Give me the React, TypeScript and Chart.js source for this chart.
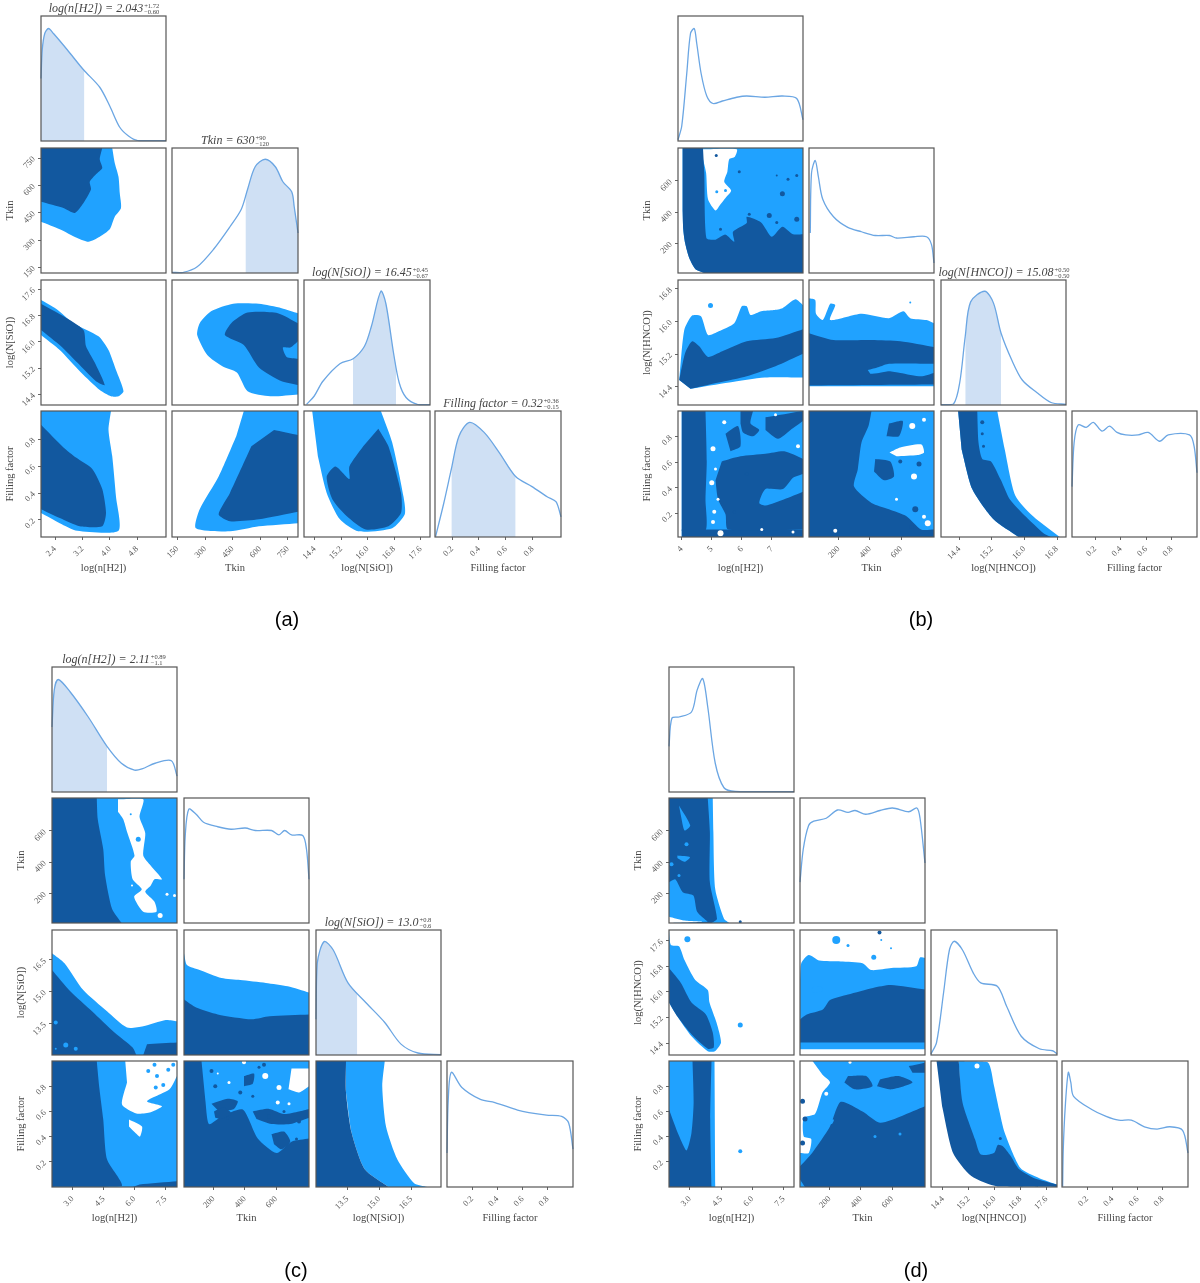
import React, { useEffect, useRef } from "react";
import { Chart, registerables } from "chart.js";

Chart.register(...registerables);

type P = number[][];

const LIGHT = "#20a2ff";
const DARK = "#12589f";
const LINE = "#6ba6e3";
const SHADE = "#cfe0f4";
const FONT = "'Liberation Serif', serif";

// ---------- axis definitions (real units) ----------
const tickT = [200, 400, 600];
const tickTLabels = ["200", "400", "600"];
const tickF = [0.2, 0.4, 0.6, 0.8];
const tickFLabels = ["0.2", "0.4", "0.6", "0.8"];

const aRangeN = [1.99, 5.64]; const aRangeT = [120, 805]; const aRangeS = [14.08, 17.88]; const aRangeF = [0.073, 1.01];
const bRangeN = [3.88, 8.03]; const bRangeT = [10, 810]; const bRangeS = [13.95, 17.02]; const bRangeF = [0.017, 1.0];
const cRangeN = [2, 8.06]; const cRangeT = [10, 810]; const cRangeS = [12.03, 17.9]; const cRangeF = [0, 1];
const dRangeN = [2, 8]; const dRangeT = [10, 810]; const dRangeS = [14.03, 17.93]; const dRangeF = [0, 1];

const aTickN = [2.4, 3.2, 4.0, 4.8]; const aTickNL = ["2.4", "3.2", "4.0", "4.8"];
const aTickT = [150, 300, 450, 600, 750]; const aTickTL = ["150", "300", "450", "600", "750"];
const aTickS = [14.4, 15.2, 16.0, 16.8, 17.6]; const aTickSL = ["14.4", "15.2", "16.0", "16.8", "17.6"];
const bTickN = [4, 5, 6, 7]; const bTickNL = ["4", "5", "6", "7"];
const bTickS = [14.4, 15.2, 16.0, 16.8]; const bTickSL = ["14.4", "15.2", "16.0", "16.8"];
const cTickN = [3.0, 4.5, 6.0, 7.5]; const cTickNL = ["3.0", "4.5", "6.0", "7.5"];
const cTickS = [13.5, 15.0, 16.5]; const cTickSL = ["13.5", "15.0", "16.5"];

// ---------- 1D posteriors: [position along axis range %, relative density %] ----------
const a1n: P = [[0,50],[1,73],[3,86],[6,90],[10,86],[21,73],[34,57],[47,43],[55,28],[63,11],[70,4],[77,0.5],[100,0.3]];
const a1t: P = [[0,0.5],[9,0.5],[20,5],[33,19],[46,37],[55,51],[60,67],[66,85],[74,91],[82,85],[88,73],[95,65],[97,53],[100,32]];
const a1s: P = [[2,0.5],[8,7],[15,19],[28.5,33],[39,37],[48,47],[53.5,63],[61,91],[65,81],[71,42],[75.5,18],[81,6],[90,0.5],[100,0.3]];
const a1f: P = [[0.5,0.5],[7,27],[13,54],[19,80],[27.5,91],[39,83],[51,67],[64,48],[77,40],[89,32],[96,28],[100,16]];
const b1n: P = [[0,1],[3,12],[7,54],[10,86],[13,90],[15,78],[18.5,54],[23,36],[28,30],[35.5,32],[47,35],[55,36],[69.5,35],[83.5,36],[95,34],[100,17]];
const b1t: P = [[1,32],[2,80],[5,90],[7.5,77],[11,59],[19.6,45],[31,36.5],[42,33],[53,30],[64.4,30],[70,28],[84,29],[94,29],[98,22.7],[100,8]];
const b1s: P = [[0,0.3],[10,0.8],[15,18],[19.4,55],[23.7,82.5],[35,91],[42,81.5],[48,57.6],[56.6,36],[65,20],[76.6,10],[88,2],[100,0.5]];
const b1f: P = [[0,40],[1.7,75],[5,89],[11.4,87],[17,91],[24,84],[30,88],[36,83],[43,81],[53,81],[61,83],[70,76],[77,81],[94,81],[97.7,72],[100,51]];
const c1n: P = [[0,52],[1.8,81.5],[5,90],[14.6,80],[29,60],[44,36.5],[55.5,23],[66,17.5],[72,18.5],[82.5,23],[95.5,25],[100,12.7]];
const c1t: P = [[0,35],[1,70],[3.8,91],[9.7,87],[15.6,80.6],[27,77],[37.6,75],[49,76],[57,74],[70,74],[76,70.5],[80.5,74],[86,70.5],[95,70],[98,59],[100,35]];
const c1s: P = [[0,28.5],[1,73.5],[6.5,90.7],[13.8,84],[25.6,57.7],[40,41.8],[55,26],[68,8.7],[81.5,1.6],[100,0.3]];
const c1f: P = [[0,27],[1,69.5],[3.5,91],[11.8,79],[26.5,69.5],[38,67],[56,61],[65,59],[79,57],[91,56],[96.5,51],[100,30]];
const d1n: P = [[0,36.5],[2.3,59],[8,60],[18,64],[22.5,81.5],[27,90.7],[31,68],[37,23],[44,3.4],[53,0.5],[100,0.3]];
const d1t: P = [[0,32.7],[2.6,59],[6.9,78],[11,81.5],[21,83.8],[30,90.4],[38.4,88.5],[44,90],[52.6,87],[64,90],[74,92],[87,89],[93.5,92],[96,84],[100,48]];
const d1s: P = [[0,0.8],[4.4,10],[10,50],[14.6,84],[18.4,91],[25,84],[33.6,65.5],[39.5,57.7],[52.6,55],[60,39],[71.6,15],[86,5],[96.5,3.4],[100,1]];
const d1f: P = [[0.5,0.5],[1,30],[2.6,64],[5,91],[7,83],[9.2,72],[23.6,61.5],[35,56],[45,53],[55,53],[65.4,47.8],[75.5,46],[85.6,47.8],[95.7,45],[100,27]];

// ---------- credible contours: [x % of range, y % of range] ----------
const aTnL: P = [[0,100],[57,100],[59,88],[62,77],[63,64],[64,52],[59,45],[55,35],[47,29],[38,25],[29,28],[15,35],[0,41]];
const aTnD: P = [[0,100],[49,100],[47,91],[49,84],[44,79],[39,73],[40,67],[34,56],[27,48],[18,52],[0,57]];
const aSnL: P = [[0,84],[12,77],[26,65.5],[46,55],[54,44],[60,28],[66,11],[62,7],[56,7],[47,12],[32,26],[15,44],[0,56]];
const aSnD: P = [[0,81],[18,71],[34,60],[36,47],[43,34],[51,16],[44,19],[29,34],[16,47],[0,60]];
const aStL: P = [[100,73.5],[87,77.5],[69,81],[48.5,81],[31,75],[22,65.5],[20,56],[28,40],[40,31],[51.5,26],[60,11],[78,7],[100,8.5]];
const aStD: P = [[100,65.5],[84,73.5],[60,74],[47,65.5],[42,56],[57,48],[69,30],[87,19],[100,16]];
const aStN: P = [[100,51],[94,46],[88,46],[91,38.5],[100,37]];
const aFnL: P = [[0,100],[56,100],[54,85],[57,64],[60,32],[62,5],[29,5],[15,11],[0,19]];
const aFnD: P = [[0,89],[18,71],[28,63],[41,54],[49,38],[52,19],[49,8.5],[31,8.5],[15,15],[0,22]];
const aFtL: P = [[57,100],[100,100],[100,11],[69,8.5],[46,4.5],[19,7],[22,22],[37,48],[51,80]];
const aFtD: P = [[81,85],[100,81],[100,20],[69,14],[46,12.5],[37,18],[46,35],[63,72]];
const aFsL: P = [[6.5,100],[61,100],[70,75],[79,32],[80,18],[70,7],[43,4.5],[28.5,14],[18,35],[11,64]];
const aFsD: P = [[59,86],[67,72],[77,35],[77,19],[67,8.5],[49,6],[34,16.5],[22.5,30],[18,48],[25,56],[36,46],[36,56],[47,72]];

const bFull: P = [[3,100],[100,100],[100,0],[3,0]];
const bTnL: P = [[3.7,100],[100,100],[100,0],[21,0],[14,3],[9,12],[5.7,24],[4.2,35],[3.7,50]];
const bTnD: P = [[3.7,100],[20,100],[21,80],[22.7,28],[30,26.7],[38,30.7],[45,25],[44,33],[55,40],[55,45],[66.5,40.5],[75,29],[83.5,37],[92,31],[100,31],[100,0],[21,0],[14,3],[9,12],[5.7,24],[4.2,35],[3.7,50]];
const bTnW: P = [[20,99],[47,99],[45.5,93],[41,91],[39.5,81],[37,73],[42.5,66],[38,60],[34,55],[30,50],[24,59],[22.5,80],[20,91]];
const bSnL: P = [[1,20],[5,60],[11.3,71.6],[18.4,71],[24,56],[32.6,59],[45,65.5],[51,79],[55,79],[58,72],[66.6,75],[76.5,76],[83.6,77.5],[94,84.6],[100,80],[100,22],[69.4,22],[41,18],[10,13]];
const bSnD: P = [[1,20],[5.7,41.6],[11.3,51],[17,47],[24,38.5],[35.4,43],[55,51],[78,53.6],[100,60.7],[100,41],[78,31],[55,23],[32.6,18],[10,13]];
const bStL: P = [[0,85.4],[5,84],[5.6,73],[11,68],[17,81],[21,80],[17,68],[42,73],[64,69.5],[75.6,75],[81,69.5],[94,68],[100,65.5],[100,15],[0,15]];
const bStD: P = [[0,57.5],[19.6,52],[50,52],[73,51],[100,46.4],[100,16.4],[0,15.6]];
const bStN: P = [[47,28],[56,30.5],[64,33],[100,33],[100,25.7],[89.6,23],[73,25.7],[64,27],[56,25.7],[49,25]];
const bFnD1: P = [[3,100],[22,100],[23,60],[22,30],[22,5],[3,5]];
const bFnD2: P = [[3,6],[100,6],[100,0],[3,0]];
const bFnD3: P = [[35,60],[50,64],[70,66],[85,68],[100,62],[100,50],[92,47],[84,38],[70,38],[65,27],[70,25],[85,30],[100,36],[100,6],[40,6],[38,18],[32,30],[30,45]];
const bFnD4: P = [[50,100],[60,100],[58,90],[65,85],[60,80],[52,83],[50,90]];
const bFnD5: P = [[70,95],[100,100],[100,92],[90,85],[80,78],[70,85]];
const bFnD6: P = [[38,82],[48,88],[50,72],[42,68]];
const bFtL: P = [[0,100],[100,100],[100,0],[0,0]];
const bFtD: P = [[50,100],[47.6,88],[42,75],[39,53.6],[36,40],[50,27],[64,22],[78,16.5],[89.6,6],[100,6],[100,0],[0,0],[0,100]];
const bFtD2: P = [[53,62],[65,60],[68,48],[60,45],[52,52]];
const bFtD3: P = [[64,90],[75,92],[72,80],[62,80]];
const bFtW: P = [[64.4,67],[73,71],[90,73.5],[92,67],[87,65],[70,64]];
const bFsL: P = [[13.7,100],[45,100],[51,69.5],[59.4,33],[73.7,16.4],[95,0],[62,0],[42,14],[25,38],[16.5,69.5]];
const bFsD: P = [[13.7,100],[29,100],[30,75],[33,62],[40,60],[48,45],[55,30],[68,16],[82,3],[88,0],[62,0],[42,14],[25,38],[16.5,69.5]];

const cTnD: P = [[0,100],[35.8,100],[36.6,83],[41,59],[42.5,38],[48,11.4],[55.7,0],[0,0]];
const cFull: P = [[0,100],[100,100],[100,0],[0,0]];
const cTnW: P = [[52.8,99],[73,99],[70,85],[74.6,72],[73,54],[78.9,46],[88,35],[82,35],[79,30],[74.6,25],[82,17],[83.6,9],[73,9],[65.7,21],[71.8,27],[64.5,35],[63,49],[66,54],[60,73],[57,83],[52.8,89]];
const cSnL: P = [[0,81.5],[10,73.5],[25,52],[44,35],[60,22],[73,23],[91,28],[100,27],[100,0],[0,0]];
const cSnD: P = [[0,68],[14.6,51],[32,35],[50,18],[64.5,6],[67.5,0],[0,0]];
const cSnD2: P = [[76,8.7],[100,10],[100,0],[73,0]];
const cStL: P = [[0,81.5],[2.4,72],[12.5,68],[30,61.6],[45,60],[65.5,57.7],[83,55],[100,50],[100,0],[0,0]];
const cStD: P = [[0,44.4],[9.7,38],[27,32.5],[54,28.6],[68.5,31],[100,32.5],[100,0],[0,0]];
const cFnD: P = [[0,100],[35.8,100],[38,77.5],[41,53.6],[44,22],[55.7,0.5],[0,0]];
const cFnD2: P = [[70,2],[100,4.5],[100,0],[64.5,0]];
const cFnW: P = [[58.6,100],[100,100],[100,88],[94,77.5],[76,68],[88,64],[79,59.4],[67.5,58.4],[56,65.5],[60,83]];
const cFnW2: P = [[61.6,53.6],[72,48],[70.4,40],[67,42.6],[61.6,48]];
const cFtL: P = [[14,100],[100,100],[100,38.5],[86,36],[74,27],[59,38.5],[47,61.5],[30,56],[20,50],[17,69.5]];
const cFtD1: P = [[22,66],[35,70],[43,68],[40,62],[28,60]];
const cFtD2: P = [[70,42],[80,44],[85,36],[78,30],[72,34]];
const cFtD3: P = [[48,88],[56,90],[55,82],[48,80]];
const cFtD4: P = [[24,60],[32,63],[38,58],[30,54],[25,55]];
const cFtD5: P = [[55,60],[68,62],[80,58],[92,60],[100,62],[100,55],[85,50],[70,50],[58,54]];
const cFtW: P = [[86,94],[100,94],[100,80],[92,75],[83.6,77.5]];
const cFsL: P = [[24,100],[55,100],[53,80],[56,48],[65,22],[78.5,3],[89,0],[58,0],[39,14],[28.5,43],[24,75]];
const cFsD: P = [[0,100],[24,100],[24,75],[28.5,43],[39,14],[58,0],[0,0]];

const dTnL: P = [[0,100],[35,100],[35.5,72.6],[37,27],[44,3.5],[48.5,0],[0,0]];
const dTnD: P = [[0,100],[31,100],[32.7,72.6],[32.7,32.7],[38.4,3.5],[34,0],[0,0]];
const dTnL2: P = [[0,0],[0,32.7],[5,35],[11,24.7],[19.5,22],[22.5,9],[31,1]];
const dTnL3: P = [[8,94],[17,78],[12.4,74],[9.5,86]];
const dTnL4: P = [[6.7,54],[16.8,52.7],[12.4,49],[6.7,52]];
const dTnW: P = [[0,5],[12,2],[27,1],[0,0]];
const dSnL: P = [[0,100],[1.5,88],[8,87],[12.4,76],[21,60],[31,52],[32.4,42],[38,26],[41.6,10],[36.7,3],[31,3],[18,15],[6.6,31],[0,42]];
const dSnD: P = [[0,69.6],[9.5,57.7],[18,42],[29.5,32.5],[35,18],[35.8,6],[31,5],[18,16.6],[6.6,31],[0,42]];
const dStL: P = [[0,60],[1,73.5],[7,80],[15.4,75.6],[32.6,74.9],[50,73.5],[57,68],[73,69.6],[93,71],[96,78],[100,77.6],[100,4.7],[0,4.7]];
const dStD: P = [[0,28.5],[5.4,32.5],[18.3,36.5],[24,44],[38.4,48.4],[58.4,53.7],[72.7,56],[100,52.4],[100,10],[0,10]];
const dStD2: P = [[9,53],[12,55],[18,54],[18,51],[10,50]];
const dFnL: P = [[0,100],[36.4,100],[37,0],[0,0]];
const dFnD: P = [[0,100],[34,100],[33,53.6],[34,0],[0,0]];
const dFnL2: P = [[0,100],[18.8,100],[19.7,67],[18,43],[14,29],[8,40.6],[0,61.5]];
const dFtL: P = [[10,100],[100,100],[100,0],[0,0],[0,27],[7,27],[9,38],[3,40],[3,55],[12,58],[18,75],[24,83],[18,89]];
const dFtD: P = [[0,16.4],[9.7,27],[24,48],[32.6,67.6],[50,60],[64,51],[81.5,56.4],[100,64],[100,0],[4,0],[0,6]];
const dFtD2: P = [[38.4,88],[53,88],[58,80],[44,77.5],[35.5,83]];
const dFtD3: P = [[64,85.4],[78.5,88],[90,83],[73,77.5],[61.6,80]];
const dFtD4: P = [[87,96],[100,98.7],[100,90.7],[90,90.7]];
const dFtD5: P = [[15.4,53.6],[27,53.6],[25.5,50],[17,50]];
const dFsL: P = [[22,100],[45,99],[50,80.4],[54,61.5],[58.5,43],[71,15],[86,7],[100,2],[100,0],[52.6,0.5],[39,14],[25,40]];
const dFsD: P = [[4.4,100],[22,100],[25,67],[35,37.6],[39.5,25.7],[50,27],[53,33.4],[57,32.4],[63,25],[70,14],[82,7],[100,2],[100,0],[52.6,0.5],[32,8.7],[17.5,27],[8.8,64]];

// isolated islands: colour, x %, y %, radius
type Dot = [string, number, number, number];
const bTnDots: Dot[] = [["D",49,81,1.5],["D",79,78,1],["D",88,75,1.5],["D",95,78,1.5],["D",83.5,63.5,2.5],["D",73,46,2.5],["D",57,47,1.5],["D",34,35,1.5],["D",79,40.5,1.5],["D",95,43,2.5],["D",30.6,94,1.5],["L",31,65,1.5],["L",38,66,1.5]];
const bSnDots: Dot[] = [["L",26,79.6,2.5]];
const bStDots: Dot[] = [["L",1,82,3],["L",81,82,1]];
const bFnDots: Dot[] = [["W",28,70,2.5],["W",37,91,2],["W",78,97,1.5],["W",27,43,2.5],["W",30,54,1.5],["W",28,12,2],["W",34,3,3],["W",96,72,2],["W",29,20,2],["W",32,30,1.5],["D",55,50,2],["D",73,40,2],["D",45,20,1.5],["W",67,6,1.5],["W",92,4,1.5]];
const bFtDots: Dot[] = [["W",84,48,3],["W",82.6,88,3],["W",92,93,2],["W",95,11,3],["W",92,16,2],["W",21,5,2],["W",70,30,1.5],["D",73,60,2],["D",88,58,2.5],["D",85,22,3],["D",82,8,2]];
const bFsDots: Dot[] = [["D",33,91,2],["D",33,82,1.5],["D",34,72,1.5]];
const cTnDots: Dot[] = [["L",69,67,2.5],["L",63,87,1],["W",92,23,1.5],["W",98,22,1.5],["W",86.5,6,2.5],["W",64,30,1]];
const cSnDots: Dot[] = [["L",3,26,2],["L",11,8,2.5],["L",19,5,2],["L",3,5,1]];
const cFnDots: Dot[] = [["L",82,97,2],["L",84,88,2],["L",89,81,2],["L",77,92,2],["L",83,79,2],["L",93,93,2],["L",97,97,2]];
const cFtDots: Dot[] = [["W",65,88,3],["W",89,88,3],["W",76,79,2.5],["W",36,83,1.5],["W",27,90,1],["W",75,67,2],["W",48,99,2],["W",84,66,1.5],["D",22,92,2],["D",25,80,2],["D",45,75,2],["D",55,72,1.5],["D",68,56,2],["D",80,60,1.5],["D",92,52,2],["D",64,97,2],["D",90,38,1.5],["D",60,95,1.5],["D",35,55,1.5]];
const dTnDots: Dot[] = [["L",14,63,2],["L",2,47,2],["L",8,38,1.5],["D",57,1,1.5]];
const dSnDots: Dot[] = [["L",14.7,92.6,3],["L",57,24,2.5]];
const dStDots: Dot[] = [["L",29,92,4],["L",38.4,87.6,1.5],["D",63.6,98,2],["L",65,92,1],["L",72.8,85.4,1],["L",59,78.3,2.5]];
const dFnDots: Dot[] = [["L",57,28.4,2]];
const dFtDots: Dot[] = [["D",2,68,2.5],["D",4,54,2.5],["D",2,35,2.5],["W",21,74,2],["W",40,99,1.5],["W",12,62,1.5],["W",12,90,1.5],["L",60,40,1.5],["L",80,42,1.5]];
const dFsDots: Dot[] = [["W",36.5,96,2.5],["D",55,38.5,1.5]];

type Layer = [string, P];
interface Cell { layers?: Layer[]; dots?: Dot[]; curve?: P; shade?: number[]; }
interface Axis { range: number[]; ticks: number[]; labels: string[]; name: string; }
interface Title { col: number; main: string; sup: string; sub: string; left: number; width: number; }
interface Fig {
  caption: string; capX: number; capY: number; cols: number[][]; rows: number[][];
  axes: Axis[]; cells: Record<string, Cell>; titles: Title[];
}

const figures: Fig[] = [
  {
    caption: "(a)", capX: 287, capY: 619,
    cols: [[41,166],[172,298],[304,430],[435,561]], rows: [[16,141],[148,273],[280,405],[411,537]],
    axes: [
      { range: aRangeN, ticks: aTickN, labels: aTickNL, name: "log(n[H2])" },
      { range: aRangeT, ticks: aTickT, labels: aTickTL, name: "Tkin" },
      { range: aRangeS, ticks: aTickS, labels: aTickSL, name: "log(N[SiO])" },
      { range: aRangeF, ticks: tickF, labels: tickFLabels, name: "Filling factor" },
    ],
    cells: {
      "0,0": { curve: a1n, shade: [0, 34.7] },
      "1,1": { curve: a1t, shade: [58.3, 100] },
      "2,2": { curve: a1s, shade: [38.8, 73] },
      "3,3": { curve: a1f, shade: [13, 64] },
      "1,0": { layers: [["L", aTnL], ["D", aTnD]] },
      "2,0": { layers: [["L", aSnL], ["D", aSnD]] },
      "2,1": { layers: [["L", aStL], ["D", aStD], ["L", aStN]] },
      "3,0": { layers: [["L", aFnL], ["D", aFnD]] },
      "3,1": { layers: [["L", aFtL], ["D", aFtD]] },
      "3,2": { layers: [["L", aFsL], ["D", aFsD]] },
    },
    titles: [
      { col: 0, main: "log(n[H2]) = 2.043", sup: "+1.72", sub: "−0.60", left: 44, width: 120 },
      { col: 1, main: "Tkin = 630", sup: "+90", sub: "−120", left: 190, width: 90 },
      { col: 2, main: "log(N[SiO]) = 16.45", sup: "+0.45", sub: "−0.67", left: 306, width: 128 },
      { col: 3, main: "Filling factor = 0.32", sup: "+0.36", sub: "−0.15", left: 436, width: 130 },
    ],
  },
  {
    caption: "(b)", capX: 921, capY: 619,
    cols: [[678,803],[809,934],[941,1066],[1072,1197]], rows: [[16,141],[148,273],[280,405],[411,537]],
    axes: [
      { range: bRangeN, ticks: bTickN, labels: bTickNL, name: "log(n[H2])" },
      { range: bRangeT, ticks: tickT, labels: tickTLabels, name: "Tkin" },
      { range: bRangeS, ticks: bTickS, labels: bTickSL, name: "log(N[HNCO])" },
      { range: bRangeF, ticks: tickF, labels: tickFLabels, name: "Filling factor" },
    ],
    cells: {
      "0,0": { curve: b1n },
      "1,1": { curve: b1t },
      "2,2": { curve: b1s, shade: [19.4, 48] },
      "3,3": { curve: b1f },
      "1,0": { layers: [["L", bTnL], ["W", bTnW], ["D", bTnD]], dots: bTnDots },
      "2,0": { layers: [["L", bSnL], ["D", bSnD]], dots: bSnDots },
      "2,1": { layers: [["L", bStL], ["D", bStD], ["L", bStN]], dots: bStDots },
      "3,0": { layers: [["L", bFull], ["D", bFnD1], ["D", bFnD2], ["D", bFnD3], ["D", bFnD4], ["D", bFnD5], ["D", bFnD6]], dots: bFnDots },
      "3,1": { layers: [["L", bFtL], ["D", bFtD], ["D", bFtD2], ["D", bFtD3], ["W", bFtW]], dots: bFtDots },
      "3,2": { layers: [["L", bFsL], ["D", bFsD]], dots: bFsDots },
    },
    titles: [
      { col: 2, main: "log(N[HNCO]) = 15.08", sup: "+0.50", sub: "−0.50", left: 936, width: 136 },
    ],
  },
  {
    caption: "(c)", capX: 296, capY: 1270,
    cols: [[52,177],[184,309],[316,441],[447,573]], rows: [[667,792],[798,923],[930,1055],[1061,1187]],
    axes: [
      { range: cRangeN, ticks: cTickN, labels: cTickNL, name: "log(n[H2])" },
      { range: cRangeT, ticks: tickT, labels: tickTLabels, name: "Tkin" },
      { range: cRangeS, ticks: cTickS, labels: cTickSL, name: "log(N[SiO])" },
      { range: cRangeF, ticks: tickF, labels: tickFLabels, name: "Filling factor" },
    ],
    cells: {
      "0,0": { curve: c1n, shade: [0, 44] },
      "1,1": { curve: c1t },
      "2,2": { curve: c1s, shade: [0, 33] },
      "3,3": { curve: c1f },
      "1,0": { layers: [["L", cFull], ["D", cTnD], ["W", cTnW]], dots: cTnDots },
      "2,0": { layers: [["L", cSnL], ["D", cSnD], ["D", cSnD2]], dots: cSnDots },
      "2,1": { layers: [["L", cStL], ["D", cStD]] },
      "3,0": { layers: [["L", cFull], ["D", cFnD], ["D", cFnD2], ["W", cFnW], ["W", cFnW2]], dots: cFnDots },
      "3,1": { layers: [["D", cFull], ["L", cFtL], ["D", cFtD1], ["D", cFtD2], ["D", cFtD3], ["D", cFtD4], ["D", cFtD5], ["W", cFtW]], dots: cFtDots },
      "3,2": { layers: [["L", cFsL], ["D", cFsD]] },
    },
    titles: [
      { col: 0, main: "log(n[H2]) = 2.11", sup: "+0.89", sub: "−1.1", left: 58, width: 112 },
      { col: 2, main: "log(N[SiO]) = 13.0", sup: "+0.8", sub: "−0.6", left: 322, width: 112 },
    ],
  },
  {
    caption: "(d)", capX: 916, capY: 1270,
    cols: [[669,794],[800,925],[931,1057],[1062,1188]], rows: [[667,792],[798,923],[930,1055],[1061,1187]],
    axes: [
      { range: dRangeN, ticks: cTickN, labels: cTickNL, name: "log(n[H2])" },
      { range: dRangeT, ticks: tickT, labels: tickTLabels, name: "Tkin" },
      { range: dRangeS, ticks: aTickS, labels: aTickSL, name: "log(N[HNCO])" },
      { range: dRangeF, ticks: tickF, labels: tickFLabels, name: "Filling factor" },
    ],
    cells: {
      "0,0": { curve: d1n },
      "1,1": { curve: d1t },
      "2,2": { curve: d1s },
      "3,3": { curve: d1f },
      "1,0": { layers: [["L", dTnL], ["D", dTnD], ["L", dTnL2], ["L", dTnL3], ["L", dTnL4], ["W", dTnW]], dots: dTnDots },
      "2,0": { layers: [["L", dSnL], ["D", dSnD]], dots: dSnDots },
      "2,1": { layers: [["L", dStL], ["D", dStD], ["L", dStD2]], dots: dStDots },
      "3,0": { layers: [["L", dFnL], ["D", dFnD], ["L", dFnL2]], dots: dFnDots },
      "3,1": { layers: [["L", dFtL], ["D", dFtD], ["D", dFtD2], ["D", dFtD3], ["D", dFtD4], ["L", dFtD5]], dots: dFtDots },
      "3,2": { layers: [["L", dFsL], ["D", dFsD]], dots: dFsDots },
    },
    titles: [],
  },
];

const COLORS: Record<string, string> = { L: LIGHT, D: DARK, W: "#ffffff" };
const YW = 37, XH = 38, TOP = 16, RIGHT = 16;

const frame = {
  id: "frame",
  afterDraw(chart: any) {
    const { ctx, chartArea: a } = chart;
    ctx.save();
    ctx.strokeStyle = "#555";
    ctx.lineWidth = 1.2;
    ctx.strokeRect(a.left, a.top, a.right - a.left, a.bottom - a.top);
    ctx.restore();
  },
};

const span = (r: number[], p: number) => r[0] + (p / 100) * (r[1] - r[0]);

// Vertices on the panel edge are doubled so the rounding keeps them sharp.
const sharpen = (pts: P): P =>
  pts.flatMap((p) => (p[0] <= 0 || p[0] >= 100 || p[1] <= 0 || p[1] >= 100 ? [p, p] : [p]));

function shadeOf(curve: P, lo: number, hi: number): P {
  const at = (x: number) => {
    for (let i = 1; i < curve.length; i++) {
      if (curve[i][0] >= x) {
        const [x0, y0] = curve[i - 1];
        const [x1, y1] = curve[i];
        return y0 + ((x - x0) / (x1 - x0 || 1)) * (y1 - y0);
      }
    }
    return curve[curve.length - 1][1];
  };
  return [[lo, at(lo)], ...curve.filter((p) => p[0] > lo && p[0] < hi), [hi, at(hi)]];
}

function makeScale(axis: "x" | "y", def: Axis | null, range: number[], showLabels: boolean) {
  const size = axis === "x" ? XH : YW;
  return {
    type: "linear",
    position: axis === "x" ? "bottom" : "left",
    min: range[0],
    max: range[1],
    afterBuildTicks(s: any) {
      s.ticks = showLabels && def ? def.ticks.map((v) => ({ value: v })) : [];
    },
    afterFit(s: any) {
      if (axis === "x") s.height = size;
      else s.width = size;
    },
    border: { display: false },
    grid: { display: showLabels, drawOnChartArea: false, drawTicks: showLabels, tickLength: 3, tickColor: "#666", tickWidth: 1 },
    ticks: {
      display: showLabels,
      autoSkip: false,
      minRotation: 45,
      maxRotation: 45,
      padding: 4,
      color: "#555",
      font: { family: FONT, size: 8.5 },
      callback: (_v: number, i: number) => (def ? def.labels[i] : ""),
    },
    title: {
      display: showLabels && !!def,
      text: def ? def.name : "",
      color: "#444",
      padding: 0,
      font: { family: FONT, size: 10.5 },
    },
  };
}

function Panel({ fig, row, col }: { fig: Fig; row: number; col: number }) {
  const ref = useRef<HTMLCanvasElement>(null);
  const cell = fig.cells[`${row},${col}`];
  const [l, r] = fig.cols[col];
  const [t, b] = fig.rows[row];
  const w = r - l + YW + RIGHT;
  const h = b - t + TOP + XH;

  useEffect(() => {
    const xAxis = fig.axes[col];
    const yAxis = fig.axes[row];
    const diag = row === col;
    const xr = xAxis.range;
    const yr = diag ? [0, 100] : yAxis.range;
    const conv = (pts: P) => pts.map(([x, y]) => ({ x: span(xr, x), y: span(yr, y) }));
    const datasets: any[] = [];
    if (cell.curve) {
      if (cell.shade) {
        datasets.push({
          data: conv(shadeOf(cell.curve, cell.shade[0], cell.shade[1])),
          showLine: true, fill: "origin", backgroundColor: SHADE, borderWidth: 0, pointRadius: 0, tension: 0.3,
        });
      }
      datasets.push({
        data: conv(cell.curve),
        showLine: true, fill: false, borderColor: LINE, borderWidth: 1.3, pointRadius: 0, tension: 0.3, clip: 1,
      });
    }
    (cell.layers || []).forEach(([c, pts]) => {
      datasets.push({
        data: conv(sharpen(pts)),
        showLine: true, fill: "shape", backgroundColor: COLORS[c], borderColor: COLORS[c], borderWidth: 0, pointRadius: 0, tension: 0.22,
      });
    });
    if (cell.dots) {
      datasets.push({
        data: cell.dots.map((d) => ({ x: span(xr, d[1]), y: span(yr, d[2]) })),
        showLine: false,
        pointRadius: cell.dots.map((d) => d[3]),
        pointBackgroundColor: cell.dots.map((d) => COLORS[d[0]]),
        pointBorderWidth: 0,
      });
    }
    datasets.forEach((d, i) => { d.order = datasets.length - i; });

    const chart = new Chart(ref.current!, {
      type: "scatter",
      data: { datasets },
      plugins: [frame],
      options: {
        animation: false,
        responsive: false,
        devicePixelRatio: 1,
        events: [],
        layout: { padding: { top: TOP, right: RIGHT, left: 0, bottom: 0 } },
        plugins: { legend: { display: false }, title: { display: false }, tooltip: { enabled: false } },
        scales: {
          x: makeScale("x", row === 3 ? xAxis : null, xr, row === 3),
          y: makeScale("y", col === 0 && !diag ? yAxis : null, yr, col === 0 && !diag),
        },
      } as any,
    } as any);
    return () => chart.destroy();
  }, []);

  return (
    <canvas
      ref={ref}
      width={w}
      height={h}
      style={{ position: "absolute", left: l - YW, top: t - TOP, width: w, height: h }}
    />
  );
}

function TitleText({ fig, title }: { fig: Fig; title: Title }) {
  const row = title.col;
  const top = fig.rows[row][0] - 15;
  return (
    <div
      style={{
        position: "absolute", left: title.left - 10, top, width: title.width + 20, height: 14, textAlign: "center",
        whiteSpace: "nowrap", fontFamily: FONT, fontStyle: "italic", fontSize: 12, lineHeight: "14px", color: "#444",
      }}
    >
      {title.main}
      <span style={{ display: "inline-block", verticalAlign: "middle", fontSize: 6.5, lineHeight: "6.5px", textAlign: "left", marginLeft: 1, fontStyle: "normal" }}>
        <span style={{ display: "block" }}>{title.sup}</span>
        <span style={{ display: "block" }}>{title.sub}</span>
      </span>
    </div>
  );
}

export default function App() {
  const panels: React.ReactNode[] = [];
  figures.forEach((fig, f) => {
    for (let row = 0; row < 4; row++) {
      for (let col = 0; col <= row; col++) {
        panels.push(<Panel key={`${f}-${row}-${col}`} fig={fig} row={row} col={col} />);
      }
    }
  });
  return (
    <div style={{ position: "absolute", left: 0, top: 0, width: 1200, height: 1283, overflow: "hidden", background: "#fff", filter: "blur(0.75px)" }}>
      {panels}
      {figures.map((fig) => fig.titles.map((t) => <TitleText key={fig.caption + t.col} fig={fig} title={t} />))}
      {figures.map((fig) => (
        <div
          key={fig.caption}
          style={{
            position: "absolute", left: fig.capX - 30, top: fig.capY - 13, width: 60, textAlign: "center",
            fontFamily: "'Liberation Sans', sans-serif", fontSize: 20, lineHeight: "26px", color: "#000",
          }}
        >
          {fig.caption}
        </div>
      ))}
    </div>
  );
}
